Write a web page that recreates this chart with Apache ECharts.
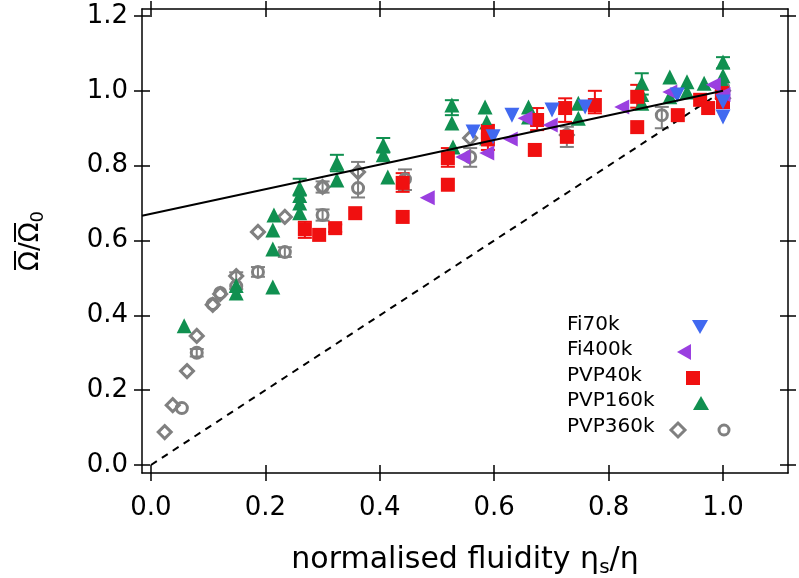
<!DOCTYPE html>
<html>
<head>
<meta charset="utf-8">
<script src="https://cdn.jsdelivr.net/npm/echarts@6/dist/echarts.min.js"></script>
<style>
html,body{margin:0;padding:0;background:#fff;}
#c{width:799px;height:578px;}
</style>
</head>
<body>
<div id="c"></div>
<script>
// ---------- data ----------
var xTicks = [0, 0.2, 0.4, 0.6, 0.8, 1.0];
var yTicks = [0, 0.2, 0.4, 0.6, 0.8, 1.0, 1.2];

var fi70k = [[0.563,0.89],[0.598,0.877],[0.631,0.935],[0.701,0.949],[0.759,0.957],[0.92,0.989],[1.0,0.93],[1.0,0.97]];
var fi400k = [[0.483,0.714],[0.545,0.823],[0.587,0.834],[0.628,0.871],[0.654,0.927],[0.698,0.909],[0.823,0.957],[0.907,0.997],[0.983,1.016],[1.0,0.99]];
var pvp40k = [[0.269,0.63],[0.294,0.615],[0.322,0.633],[0.357,0.673],[0.44,0.663],[0.44,0.754],[0.519,0.749],[0.519,0.82],[0.589,0.89],[0.589,0.87],[0.671,0.842],[0.675,0.922],[0.724,0.954],[0.727,0.877],[0.776,0.962],[0.85,0.903],[0.85,0.984],[0.921,0.935],[0.96,0.976],[0.974,0.954],[0.998,0.994],[1.0,0.97]];
var pvp160k = [[0.058,0.372],[0.149,0.46],[0.149,0.48],[0.213,0.476],[0.213,0.577],[0.213,0.628],[0.215,0.668],[0.26,0.674],[0.26,0.70],[0.26,0.72],[0.26,0.74],[0.325,0.762],[0.325,0.807],[0.406,0.829],[0.406,0.855],[0.414,0.77],[0.526,0.914],[0.526,0.962],[0.528,0.85],[0.584,0.957],[0.587,0.917],[0.587,0.874],[0.66,0.93],[0.66,0.957],[0.747,0.927],[0.747,0.967],[0.858,0.967],[0.858,0.99],[0.858,1.02],[0.907,0.984],[0.907,1.037],[0.937,0.997],[0.937,1.024],[0.967,1.02],[1.0,1.077],[1.0,1.04],[1.0,1.02]];
var pvp360kDiamond = [[0.024,0.088],[0.038,0.16],[0.063,0.251],[0.08,0.345],[0.108,0.428],[0.121,0.457],[0.149,0.505],[0.187,0.623],[0.234,0.663],[0.30,0.743],[0.362,0.783],[0.558,0.874],[0.727,0.882],[1.0,1.0],[1.0,0.98]];
var pvp360kCircle = [[0.054,0.152],[0.08,0.30],[0.108,0.43],[0.121,0.46],[0.149,0.478],[0.187,0.516],[0.234,0.569],[0.30,0.668],[0.30,0.743],[0.362,0.74],[0.444,0.764],[0.558,0.823],[0.727,0.882],[0.893,0.935],[1.0,0.97],[1.0,0.99],[1.0,1.01]];

// error bars: [x, low, high]
var errPvp40k = [[0.269,0.607,0.65],[0.322,0.623,0.643],[0.44,0.73,0.78],[0.519,0.797,0.847],[0.589,0.842,0.909],[0.675,0.895,0.954],[0.724,0.917,0.98],[0.776,0.94,1.0],[0.85,0.955,1.016]];
var errPvp160k = [[0.26,0.72,0.765],[0.325,0.785,0.829],[0.406,0.835,0.874],[0.526,0.935,0.975],[0.858,0.99,1.047],[1.0,1.06,1.09]];
var errPvp360k = [[0.08,0.29,0.31],[0.149,0.47,0.515],[0.187,0.503,0.529],[0.234,0.556,0.582],[0.30,0.653,0.683],[0.30,0.728,0.758],[0.362,0.715,0.81],[0.444,0.735,0.79],[0.558,0.797,0.847],[0.727,0.85,0.904],[0.893,0.9,0.957]];

var fitLine = [[-0.0157,0.666],[1.0,1.0]];
var identityLine = [[0,0],[1,1]];

// ---------- styles ----------
var XMIN = -0.0157, XMAX = 1.1136, YMIN = -0.0214, YMAX = 1.2187;
var FONT = 'DejaVu Sans';
var cBlue = '#4169f0', cPurple = '#9a3fe0', cRed = '#f01010', cGreen = '#109050', cGray = '#808080';

function xAx(pos, inside, showLine, showLabel) {
  return {
    type: 'value', position: pos, min: XMIN, max: XMAX,
    splitLine: {show: false},
    axisLine: {show: showLine, onZero: false, lineStyle: {color: '#000', width: 1.5}},
    axisTick: {show: true, inside: inside, length: 8, customValues: xTicks, lineStyle: {color: '#000', width: 1.5}},
    axisLabel: {show: showLabel, customValues: xTicks, margin: 22, fontSize: 26, fontFamily: FONT, color: '#000',
      formatter: function (v) { return v.toFixed(1); }}
  };
}
function yAx(pos, inside, showLine, showLabel) {
  return {
    type: 'value', position: pos, min: YMIN, max: YMAX,
    splitLine: {show: false},
    axisLine: {show: showLine, onZero: false, lineStyle: {color: '#000', width: 1.5}},
    axisTick: {show: true, inside: inside, length: 8, customValues: yTicks, lineStyle: {color: '#000', width: 1.5}},
    axisLabel: {show: showLabel, customValues: yTicks, margin: 14, fontSize: 26, fontFamily: FONT, color: '#000',
      formatter: function (v) { return v.toFixed(1); }}
  };
}

var xAxes = [xAx('bottom', false, true, true), xAx('bottom', true, false, false), xAx('top', false, true, false), xAx('top', true, false, false)];
xAxes[0].name = '{t|normalised fluidity η}{s|s}{t|/η}';
xAxes[0].nameLocation = 'middle';
xAxes[0].nameGap = 70;
xAxes[0].nameTextStyle = {rich: {t: {fontSize: 30, fontFamily: FONT, color: '#000'}, s: {fontSize: 20, fontFamily: FONT, color: '#000', verticalAlign: 'bottom', padding: [15, 0, 0, 0]}}};

var yAxes = [yAx('left', false, true, true), yAx('left', true, false, false), yAx('right', false, true, false), yAx('right', true, false, false)];
yAxes[0].name = '{bar|}{gap|}{bar|}{gap2|}\n{t|Ω/Ω}{s|0}';
yAxes[0].nameLocation = 'middle';
yAxes[0].nameGap = 97;
yAxes[0].nameRotate = 90;
yAxes[0].nameTextStyle = {
  align: 'center',
  rich: {
    bar: {width: 19, height: 2, backgroundColor: '#000', lineHeight: 4},
    gap: {width: 9, height: 2, lineHeight: 4},
    gap2: {width: 11, height: 2, lineHeight: 4},
    t: {fontSize: 26, fontFamily: FONT, color: '#000', lineHeight: 28},
    s: {fontSize: 18, fontFamily: FONT, color: '#000', lineHeight: 28, padding: [14, 0, 0, 0]}
  }
};

function errSeries(data, color) {
  return {
    type: 'custom', data: data, z: 1, silent: true,
    encode: {x: 0, y: [1, 2]},
    renderItem: function (params, api) {
      var x = api.value(0), lo = api.value(1), hi = api.value(2);
      var p1 = api.coord([x, lo]), p2 = api.coord([x, hi]);
      var w = 7;
      var st = {stroke: color, lineWidth: 2};
      return {type: 'group', children: [
        {type: 'line', shape: {x1: p1[0], y1: p1[1], x2: p2[0], y2: p2[1]}, style: st},
        {type: 'line', shape: {x1: p1[0] - w, y1: p1[1], x2: p1[0] + w, y2: p1[1]}, style: st},
        {type: 'line', shape: {x1: p2[0] - w, y1: p2[1], x2: p2[0] + w, y2: p2[1]}, style: st}
      ]};
    }
  };
}

function scatter(name, data, symbol, rot, size, color, hollow) {
  return {
    name: name, type: 'scatter', data: data, symbol: symbol, symbolRotate: rot, symbolSize: size, z: 3,
    itemStyle: hollow ? {color: 'rgba(255,255,255,0)', borderColor: color, borderWidth: 3, opacity: 1}
                      : {color: color, opacity: 1}
  };
}

var LF = '20px "DejaVu Sans"';
var option = {
  backgroundColor: '#fff',
  animation: false,
  grid: {left: 142, right: 11, top: 9, bottom: 105, containLabel: false, outerBoundsMode: 'none'},
  xAxis: xAxes,
  yAxis: yAxes,
  series: [
    {type: 'line', data: identityLine, showSymbol: false, symbol: 'none', z: 2, lineStyle: {color: '#000', width: 2, type: [7, 6]}},
    errSeries(errPvp360k, cGray),
    errSeries(errPvp160k, cGreen),
    errSeries(errPvp40k, cRed),
    scatter('PVP360k', pvp360kDiamond, 'diamond', 0, 13, cGray, true),
    scatter('PVP360k ', pvp360kCircle, 'circle', 0, 11, cGray, true),
    scatter('PVP160k', pvp160k, 'triangle', 0, 15, cGreen, false),
    scatter('PVP40k', pvp40k, 'rect', 0, 14, cRed, false),
    scatter('Fi400k', fi400k, 'triangle', 90, 15, cPurple, false),
    scatter('Fi70k', fi70k, 'triangle', 180, 15, cBlue, false),
    {type: 'line', data: fitLine, showSymbol: false, symbol: 'none', z: 4, lineStyle: {color: '#000', width: 2}}
  ],
  graphic: [
    {type: 'text', left: 567, top: 315, style: {text: 'Fi70k', font: LF, fill: '#000'}},
    {type: 'polygon', shape: {points: [[692, 320], [708, 320], [700, 334]]}, style: {fill: cBlue}},
    {type: 'text', left: 567, top: 340, style: {text: 'Fi400k', font: LF, fill: '#000'}},
    {type: 'polygon', shape: {points: [[691, 344], [691, 360], [677, 352]]}, style: {fill: cPurple}},
    {type: 'text', left: 567, top: 366, style: {text: 'PVP40k', font: LF, fill: '#000'}},
    {type: 'rect', shape: {x: 686, y: 371, width: 14, height: 14}, style: {fill: cRed}},
    {type: 'text', left: 567, top: 391, style: {text: 'PVP160k', font: LF, fill: '#000'}},
    {type: 'polygon', shape: {points: [[693, 410], [709, 410], [701, 396]]}, style: {fill: cGreen}},
    {type: 'text', left: 567, top: 417, style: {text: 'PVP360k', font: LF, fill: '#000'}},
    {type: 'polygon', shape: {points: [[678, 423], [685, 430], [678, 437], [671, 430]]}, style: {fill: 'none', stroke: cGray, lineWidth: 3}},
    {type: 'circle', shape: {cx: 724, cy: 430, r: 5}, style: {fill: 'none', stroke: cGray, lineWidth: 3}}
  ]
};

var chart = echarts.init(document.getElementById('c'), null, {renderer: 'canvas'});
chart.setOption(option);
</script>
</body>
</html>
